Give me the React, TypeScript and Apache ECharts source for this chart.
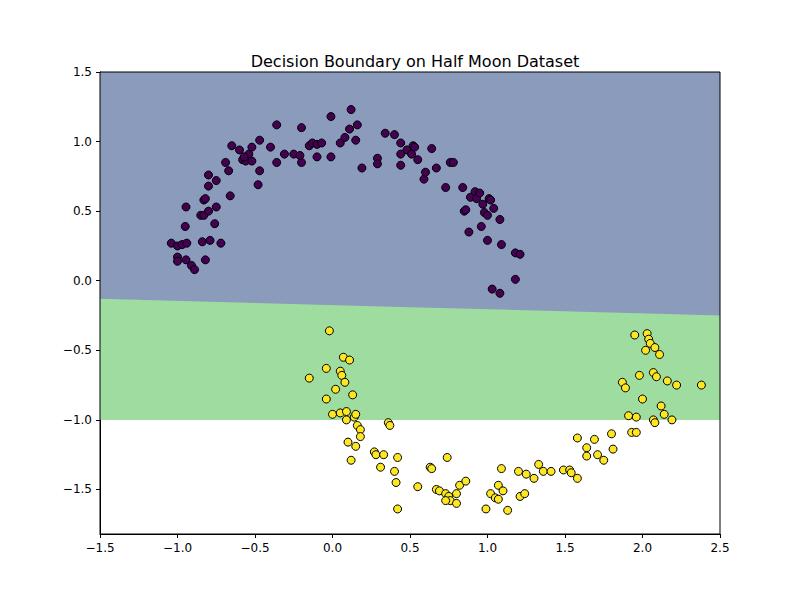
import React, { useEffect, useRef } from "react";
import * as echarts from "echarts";

const purple: number[][] = [
  [-1.04, 0.27], [-1.0, 0.25], [-0.97, 0.26], [-1.0, 0.17], [-1.0, 0.14], [-0.945, 0.15], [-0.91, 0.11],
  [-0.89, 0.08], [-0.82, 0.15], [-0.945, 0.53], [-0.95, 0.39], [-0.94, 0.27], [-0.84, 0.28], [-0.79, 0.29],
  [-0.72, 0.27], [-0.85, 0.47], [-0.83, 0.47], [-0.8, 0.5], [-0.76, 0.41], [-0.75, 0.53], [-0.83, 0.58],
  [-0.8, 0.68], [-0.82, 0.59], [-0.8, 0.76], [-0.67, 0.79], [-0.75, 0.72], [-0.69, 0.85], [-0.66, 0.61],
  [-0.65, 0.97], [-0.6, 0.94], [-0.58, 0.87], [-0.56, 0.86], [-0.54, 0.91], [-0.52, 0.96], [-0.57, 0.89],
  [-0.52, 0.86], [-0.48, 0.69], [-0.47, 0.79], [-0.47, 1.01], [-0.4, 0.96], [-0.36, 1.12], [-0.36, 0.85],
  [-0.31, 0.91], [-0.25, 0.91], [-0.2, 1.1], [-0.2, 0.85], [-0.21, 0.9], [-0.15, 0.97], [-0.13, 0.99],
  [-0.1, 0.98], [-0.07, 0.99], [-0.1, 0.89], [-0.01, 0.89], [-0.01, 1.18], [0.05, 0.99], [0.08, 1.03],
  [0.11, 1.09], [0.12, 1.23], [0.15, 1.01], [0.16, 1.12], [0.19, 0.81], [0.29, 0.88], [0.29, 0.84],
  [0.34, 1.06], [0.4, 1.05], [0.44, 0.99], [0.44, 0.91], [0.44, 0.83], [0.48, 0.94], [0.51, 0.91],
  [0.52, 0.97], [0.53, 0.96], [0.55, 0.87], [0.59, 0.73], [0.6, 0.78], [0.64, 0.95], [0.67, 0.81],
  [0.73, 0.67], [0.76, 0.85], [0.78, 0.85], [0.84, 0.67], [0.85, 0.5], [0.86, 0.51], [0.89, 0.6],
  [0.88, 0.35], [0.92, 0.64], [0.93, 0.59], [0.95, 0.63], [0.96, 0.39], [0.97, 0.55], [0.98, 0.49],
  [1.0, 0.47], [1.0, 0.29], [1.01, 0.59], [1.02, 0.58], [1.04, 0.52], [1.08, 0.44], [1.09, 0.26],
  [1.18, 0.2], [1.21, 0.19], [1.08, -0.09], [1.18, 0.01], [1.03, -0.06],
];

const yellow: number[][] = [
  [-0.02, -0.36], [-0.15, -0.7], [-0.04, -0.63], [0.02, -0.78], [0.05, -0.65], [0.06, -0.68], [0.08, -0.73],
  [0.07, -0.55], [0.11, -0.57], [0.13, -0.82], [-0.04, -0.85], [0.0, -0.96], [0.05, -0.95], [0.09, -0.94],
  [0.09, -1.0], [0.14, -0.98], [0.15, -0.96], [0.16, -1.04], [0.18, -1.07], [0.18, -1.12], [0.1, -1.16],
  [0.12, -1.29], [0.15, -1.19], [0.27, -1.23], [0.31, -1.34], [0.28, -1.25], [0.33, -1.25], [0.36, -1.02],
  [0.37, -1.04], [0.42, -1.27], [0.4, -1.37], [0.41, -1.45], [0.42, -1.64], [0.55, -1.48], [0.63, -1.34],
  [0.64, -1.35], [0.67, -1.5], [0.69, -1.51], [0.73, -1.53], [0.75, -1.55], [0.76, -1.58], [0.8, -1.53],
  [0.74, -1.27], [0.82, -1.47], [0.86, -1.44], [0.73, -1.58], [0.8, -1.6], [0.99, -1.64], [1.02, -1.53],
  [1.05, -1.56], [1.07, -1.47], [1.07, -1.57], [1.1, -1.51], [1.13, -1.65], [1.09, -1.35], [1.2, -1.37],
  [1.21, -1.55], [1.24, -1.53], [1.25, -1.39], [1.3, -1.42], [1.33, -1.32], [1.36, -1.37], [1.41, -1.37],
  [1.49, -1.36], [1.53, -1.36], [1.54, -1.38], [1.58, -1.42], [1.58, -1.13], [1.64, -1.2], [1.64, -1.26],
  [1.69, -1.14], [1.75, -1.29], [1.71, -1.25], [1.8, -1.1], [1.81, -1.21], [1.87, -0.73], [1.89, -0.77],
  [1.91, -0.97], [1.93, -1.09], [1.96, -1.09], [1.96, -0.98], [1.98, -0.68], [2.0, -0.85], [2.02, -0.5],
  [2.03, -0.38], [2.04, -0.42], [2.05, -0.45], [2.07, -0.66], [2.07, -1.0], [2.08, -1.02], [2.08, -0.48],
  [2.09, -0.69], [2.11, -0.53], [2.22, -0.75], [2.16, -0.72], [2.38, -0.75], [2.14, -0.96], [2.19, -1.0],
  [2.12, -0.9], [1.95, -0.39],
];

const boundary: number[][] = [
  [-1.5, -0.13], [-0.5, -0.16], [0.5, -0.19], [1.5, -0.22], [2.5, -0.25],
];
const greenFloor: number[][] = [[-1.5, -1.0], [2.5, -1.0]];
const xTicks = [-1.5, -1.0, -0.5, 0.0, 0.5, 1.0, 1.5, 2.0, 2.5];
const yTicks = [-1.5, -1.0, -0.5, 0.0, 0.5, 1.0, 1.5];

const fmt = (v: number) => v.toFixed(1).replace("-", "\u2212");

const App = () => {
  const chartRef = useRef(null);

  useEffect(() => {
    const chart = echarts.init(chartRef.current, null, { renderer: "svg" });
    const axisCommon = {
      axisLine: { onZero: false, lineStyle: { color: "#000" } },
      axisTick: { inside: false, length: 4, lineStyle: { color: "#000" } },
      axisLabel: { color: "#000", fontSize: 12, formatter: fmt },
      splitLine: { show: false },
    };
    chart.setOption({
      animation: false,
      textStyle: { fontFamily: "DejaVu Sans" },
      title: {
        text: "Decision Boundary on Half Moon Dataset",
        left: 402, top: 40, textAlign: "center",
        textStyle: { fontSize: 16, fontWeight: "normal", color: "#000" },
      },
      grid: {
        left: 92, right: 72, top: 64, bottom: 58,
        show: true, borderColor: "#000", borderWidth: 1, backgroundColor: "transparent", z: 10,
      },
      xAxis: {
        type: "value", min: -1.5, max: 2.5, position: "bottom",
        ...axisCommon,
        axisTick: { ...axisCommon.axisTick, customValues: xTicks },
        axisLabel: { ...axisCommon.axisLabel, customValues: xTicks },
      },
      yAxis: {
        type: "value", min: -1.82, max: 1.5,
        ...axisCommon,
        axisTick: { ...axisCommon.axisTick, customValues: yTicks },
        axisLabel: { ...axisCommon.axisLabel, customValues: yTicks },
      },
      series: [
        {
          type: "line", data: greenFloor, symbol: "none", silent: true, z: 1,
          lineStyle: { width: 0 }, areaStyle: { color: "#9edd9f", opacity: 1, origin: "end" },
        },
        {
          type: "line", data: boundary, symbol: "none", silent: true, z: 1,
          lineStyle: { width: 0 }, areaStyle: { color: "#8a9bbb", opacity: 1, origin: "end" },
        },
        {
          type: "scatter", data: purple, symbolSize: 8, z: 5,
          itemStyle: { color: "#440154", borderColor: "#000", borderWidth: 1, opacity: 1 },
        },
        {
          type: "scatter", data: yellow, symbolSize: 8, z: 5,
          itemStyle: { color: "#fde725", borderColor: "#000", borderWidth: 1, opacity: 1 },
        },
      ],
    });
    return () => {
      chart.dispose();
    };
  }, []);

  return <div ref={chartRef} style={{ width: "784px", height: "584px" }}></div>;
};

export default App;
